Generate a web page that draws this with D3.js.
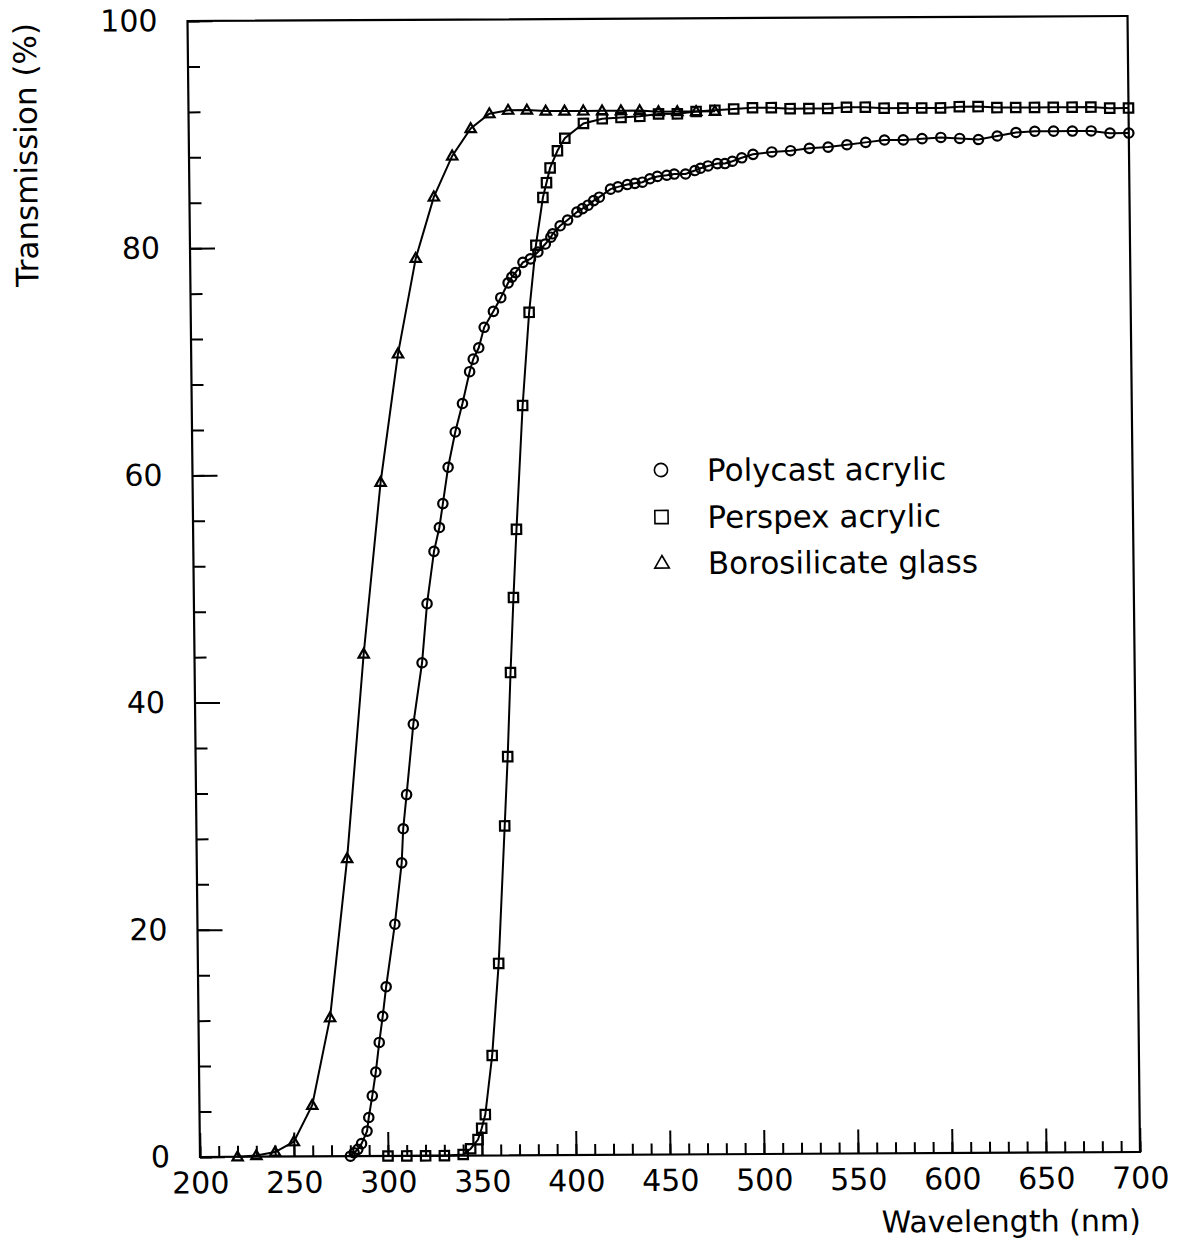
<!DOCTYPE html>
<html>
<head>
<meta charset="utf-8">
<script src="https://cdn.jsdelivr.net/npm/d3@7"></script>
<style>
  body { margin: 0; background: #fff; }
  text { font-family: "DejaVu Sans", sans-serif; fill: #000; }
</style>
</head>
<body>
<script>
'use strict';

// Polycast acrylic (circles)
const polycastWl = [280, 282, 284, 286, 289, 290, 292, 294, 296, 298, 300, 305, 309, 310, 312, 316,
  321, 324, 328, 331, 333, 336, 340, 344, 348, 350, 353, 356, 361, 365, 369, 371, 373, 377, 381, 385,
  389, 392, 393, 397, 401, 406, 409, 412, 415, 418, 424, 428, 433, 437, 441, 445, 449, 454, 458, 464,
  469, 472, 476, 481, 485, 489, 494, 500, 510, 520, 530, 540, 550, 560, 570, 580, 590, 600, 610, 620,
  630, 640, 650, 660, 670, 680, 690, 700];
const polycastT = [0.0, 0.3, 0.6, 1.1, 2.2, 3.4, 5.3, 7.4, 10.0, 12.3, 14.9, 20.4, 25.8, 28.8, 31.8, 38.0,
  43.4, 48.6, 53.2, 55.3, 57.4, 60.6, 63.7, 66.2, 69.0, 70.1, 71.1, 72.9, 74.3, 75.5, 76.8, 77.3, 77.7, 78.6, 78.9, 79.5,
  80.2, 80.8, 81.1, 81.8, 82.3, 83.0, 83.3, 83.6, 84.0, 84.3, 85.0, 85.2, 85.4, 85.5, 85.6, 85.9, 86.1, 86.2, 86.3, 86.3,
  86.6, 86.8, 87.0, 87.2, 87.2, 87.4, 87.7, 88.0, 88.2, 88.3, 88.5, 88.6, 88.8, 89.0, 89.2, 89.2, 89.3, 89.4, 89.3, 89.2,
  89.5, 89.8, 89.9, 89.9, 89.9, 89.9, 89.7, 89.7];

// Perspex acrylic (squares)
const perspexWl = [300, 310, 320, 330, 340, 344, 348, 350, 352, 356, 360, 364, 366, 368, 370, 372, 376, 380,
  384, 388, 390, 392, 396, 400, 410, 420, 430, 440, 450, 460, 470, 480, 490, 500, 510, 520, 530, 540, 550,
  560, 570, 580, 590, 600, 610, 620, 630, 640, 650, 660, 670, 680, 690, 700];
const perspexT = [0, 0, 0, 0, 0.1, 0.6, 1.4, 2.4, 3.6, 8.8, 16.9, 29.0, 35.1, 42.5, 49.1, 55.1, 66.0, 74.2,
  80.1, 84.3, 85.6, 86.9, 88.4, 89.5, 90.8, 91.2, 91.3, 91.4, 91.6, 91.6, 91.8, 91.9, 92.0, 92.1, 92.1, 92.0, 92.0, 92.0, 92.1,
  92.1, 92.0, 92.0, 92.0, 92.0, 92.1, 92.1, 92.0, 92.0, 92.0, 92.0, 92.0, 92.0, 91.9, 91.9];

// Borosilicate glass (triangles)
const glassWl = [220, 230, 240, 250, 260, 270, 280, 290, 300, 310, 320, 330, 340, 350, 360, 370, 380,
  390, 400, 410, 420, 430, 440, 450, 460, 470, 480];
const glassT = [0.0, 0.1, 0.4, 1.3, 4.5, 12.2, 26.2, 44.2, 59.3, 70.6, 79.0, 84.4, 88.0, 90.4, 91.7, 92.0, 92.0,
  91.9, 91.9, 91.9, 91.9, 91.9, 91.9, 91.8, 91.8, 91.8, 91.8];

const wlTicks = [200, 250, 300, 350, 400, 450, 500, 550, 600, 650, 700];
const tTicks = [0, 20, 40, 60, 80, 100];
const seriesNames = ['Polycast acrylic', 'Perspex acrylic', 'Borosilicate glass'];

(function() {

  const left = 200, right = 1140, top = 21, bottom = 1157;

  window.onload = function() {
    const svg = d3.select('body')
      .append('svg')
      .attr('width', 1185)
      .attr('height', 1245);

    svg.append('rect').attr('width', 1185).attr('height', 1245).attr('fill', '#fff');

    // the scanned page is slightly skewed
    const g = svg.append('g')
      .attr('transform', 'matrix(1,-0.0053,0.011,1,-12.727,1.06)');

    const x = d3.scaleLinear().domain([200, 700]).range([left, right]);
    const y = d3.scaleLinear().domain([0, 100]).range([bottom, top]);

    // minor ticks
    g.append('g')
      .attr('transform', `translate(0,${bottom})`)
      .call(d3.axisBottom(x).tickValues(d3.range(200, 701, 10)).tickSize(-11).tickFormat(''))
      .call(a => a.select('.domain').remove());
    g.append('g')
      .attr('transform', `translate(${left},0)`)
      .call(d3.axisLeft(y).tickValues(d3.range(0, 101, 4)).tickSize(-12).tickFormat(''))
      .call(a => a.select('.domain').remove());

    // major ticks + labels
    const xAxis = g.append('g')
      .attr('transform', `translate(0,${bottom})`)
      .call(d3.axisBottom(x).tickValues(wlTicks).tickSizeInner(-24).tickSizeOuter(0).tickPadding(15));
    xAxis.select('.domain').remove();
    const yAxis = g.append('g')
      .attr('transform', `translate(${left},0)`)
      .call(d3.axisLeft(y).tickValues(tTicks).tickSizeInner(-25).tickSizeOuter(0).tickPadding(30));
    yAxis.select('.domain').remove();

    g.selectAll('.tick line').attr('stroke', '#000').attr('stroke-width', 2);
    g.selectAll('.tick text').style('font-size', '30px').attr('font-family', null);

    g.append('rect')
      .attr('x', left).attr('y', top)
      .attr('width', right - left).attr('height', bottom - top)
      .attr('fill', 'none').attr('stroke', '#000').attr('stroke-width', 2.2);

    // axis titles
    g.append('text')
      .attr('x', right).attr('y', 1236)
      .attr('text-anchor', 'end')
      .style('font-size', '30px')
      .text('Wavelength (nm)');
    g.append('text')
      .attr('transform', 'translate(48,154) rotate(-90)')
      .attr('text-anchor', 'middle')
      .style('font-size', '31px')
      .text('Transmission (%)');

    const series = [
      { wl: polycastWl, t: polycastT, shape: 'circle' },
      { wl: perspexWl, t: perspexT, shape: 'square' },
      { wl: glassWl, t: glassT, shape: 'triangle' }
    ];

    const line = d3.line().x(d => x(d[0])).y(d => y(d[1]));

    series.forEach(s => {
      const pts = s.wl.map((w, i) => [w, s.t[i]]);
      g.append('path')
        .datum(pts)
        .attr('d', line)
        .attr('fill', 'none')
        .attr('stroke', '#000')
        .attr('stroke-width', 2);
      drawMarkers(g, pts.map(p => [x(p[0]), y(p[1])]), s.shape, 4.7, 2.2);
    });

    // legend
    const legY = [472.5, 519.5, 565.5];
    series.forEach((s, i) => {
      drawMarkers(g, [[668.5, legY[i]]], s.shape, 6.6, 1.6);
      g.append('text')
        .attr('x', 714.5).attr('y', legY[i])
        .attr('dy', '0.36em')
        .style('font-size', '31px')
        .text(seriesNames[i]);
    });
  };

  function drawMarkers(g, pts, shape, r, sw) {
    const sel = g.append('g')
      .attr('fill', 'none')
      .attr('stroke', '#000')
      .attr('stroke-width', sw);
    if (shape === 'circle') {
      sel.selectAll('circle').data(pts).enter().append('circle')
        .attr('cx', d => d[0]).attr('cy', d => d[1]).attr('r', r);
    } else if (shape === 'square') {
      sel.selectAll('rect').data(pts).enter().append('rect')
        .attr('x', d => d[0] - r).attr('y', d => d[1] - r)
        .attr('width', 2 * r).attr('height', 2 * r);
    } else {
      const h = r * 1.9;
      sel.selectAll('path').data(pts).enter().append('path')
        .attr('d', d => `M${d[0]},${d[1] - h * 0.6}L${d[0] + r * 1.1},${d[1] + h * 0.4}L${d[0] - r * 1.1},${d[1] + h * 0.4}Z`);
    }
  }

})();
</script>
</body>
</html>
